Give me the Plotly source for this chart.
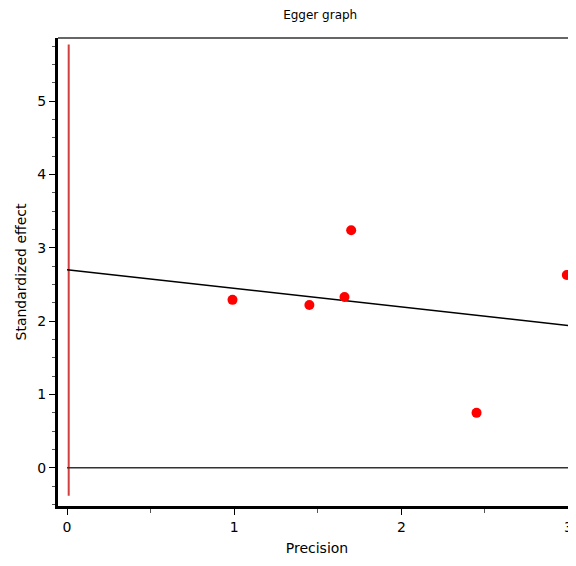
import plotly.graph_objects as go

# Data
precision = [0.99, 1.45, 1.66, 1.70, 2.45, 2.99]
std_effect = [2.29, 2.22, 2.33, 3.24, 0.75, 2.63]

reg_x = [0.0, 3.0]
reg_y = [2.70, 1.94]

zero_x = [0.0, 3.0]
zero_y = [0.0, 0.0]

ci_x = [0.01, 0.01]
ci_y = [-0.38, 5.77]

x_ticks = [0, 1, 2, 3]
y_ticks = [0, 1, 2, 3, 4, 5]

fig = go.Figure()
fig.add_trace(go.Scatter(x=ci_x, y=ci_y, mode="lines",
                         line=dict(color="#d04040", width=2), showlegend=False))
fig.add_trace(go.Scatter(x=zero_x, y=zero_y, mode="lines",
                         line=dict(color="#333333", width=1.5), showlegend=False))
fig.add_trace(go.Scatter(x=reg_x, y=reg_y, mode="lines",
                         line=dict(color="black", width=1.5), showlegend=False))
fig.add_trace(go.Scatter(x=precision, y=std_effect, mode="markers",
                         marker=dict(color="red", size=10, symbol="circle",
                                     line=dict(width=0)),
                         cliponaxis=False, showlegend=False))

font = dict(family="DejaVu Sans, Arial, sans-serif", size=14, color="black")

fig.update_layout(
    width=576, height=566,
    margin=dict(l=50, r=8, t=30, b=68),
    paper_bgcolor="white", plot_bgcolor="white",
    font=font,
    title=dict(text="Egger graph", x=0.542, xanchor="center", y=0.988,
               yanchor="middle", font=dict(size=12, family="DejaVu Sans, Arial, sans-serif")),
    xaxis=dict(range=[-0.054, 3.045], tickvals=x_ticks, ticks="outside",
               ticklen=6, tickwidth=1, tickcolor="black", automargin=False,
               showgrid=False, zeroline=False,
               showline=True, linecolor="black", linewidth=3,
               minor=dict(dtick=0.5, tick0=0, ticks="outside", ticklen=4,
                          tickcolor="#555555", showgrid=False),
               title=dict(text="Precision", standoff=10, font=dict(size=14))),
    yaxis=dict(range=[-0.52, 5.86], tickvals=y_ticks, ticks="outside",
               ticklen=6, tickwidth=1, tickcolor="black", automargin=False,
               showgrid=False, zeroline=False,
               showline=True, linecolor="black", linewidth=3,
               minor=dict(dtick=0.25, tick0=0, ticks="outside", ticklen=3,
                          tickcolor="#555555", showgrid=False),
               title=dict(text="Standardized effect", standoff=8, font=dict(size=14))),
    shapes=[dict(type="line", xref="paper", yref="paper", x0=0, x1=1, y0=1, y1=1,
                 line=dict(color="#333333", width=1.5))],
)

fig.write_html("out.html")
